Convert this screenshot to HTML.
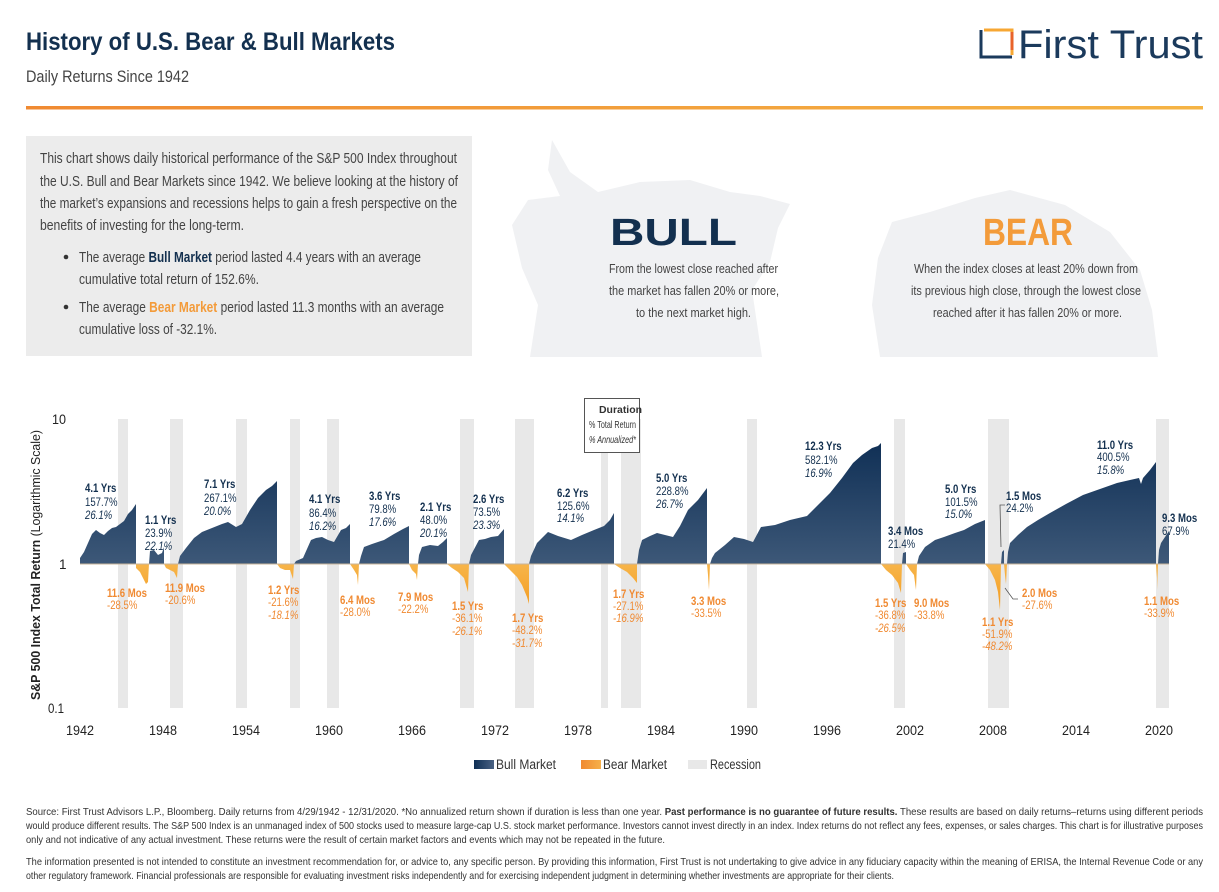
<!DOCTYPE html>
<html><head><meta charset="utf-8"><style>
html,body{margin:0;padding:0;background:#fff;}
svg{display:block;font-family:"Liberation Sans Narrow","Liberation Sans",sans-serif;}
</style></head><body>
<svg width="1219" height="892" viewBox="0 0 1219 892" xmlns="http://www.w3.org/2000/svg">
<defs>
<linearGradient id="og" x1="0" x2="1" y1="0" y2="0"><stop offset="0" stop-color="#f08a32"/><stop offset="1" stop-color="#f5b445"/></linearGradient>
<linearGradient id="bull" gradientUnits="userSpaceOnUse" x1="0" y1="440" x2="0" y2="564"><stop offset="0" stop-color="#0f2f55"/><stop offset="1" stop-color="#3d5878"/></linearGradient>
<linearGradient id="bear" gradientUnits="userSpaceOnUse" x1="0" y1="564" x2="0" y2="612"><stop offset="0" stop-color="#f7b54a"/><stop offset="1" stop-color="#f39a1e"/></linearGradient>
<linearGradient id="lgb" x1="0" x2="1"><stop offset="0" stop-color="#0f2f55"/><stop offset="1" stop-color="#4a6283"/></linearGradient>
<linearGradient id="lgo" x1="0" x2="1"><stop offset="0" stop-color="#f08a32"/><stop offset="1" stop-color="#f6b04a"/></linearGradient>
</defs>

<!-- Header -->
<text x="26" y="50" font-size="25" font-weight="bold" fill="#13304f" textLength="369" lengthAdjust="spacingAndGlyphs">History of U.S. Bear &amp; Bull Markets</text>
<text x="26" y="82" font-size="17" fill="#444" textLength="163" lengthAdjust="spacingAndGlyphs">Daily Returns Since 1942</text>
<rect x="26" y="106" width="1177" height="3.5" fill="url(#og)"/>
<path d="M981 30 V57 H1012" fill="none" stroke="#1b3a5c" stroke-width="3"/>
<path d="M984 30 H1012 V55" fill="none" stroke="#f7a733" stroke-width="3"/>
<path d="M1012 32 V50" stroke="#e8632a" stroke-width="3"/>
<text x="1018" y="58" font-size="40" fill="#1b3a5c" textLength="185" lengthAdjust="spacingAndGlyphs">First Trust</text>

<!-- silhouettes -->
<path d="M530 357 L538 305 L522 268 L512 225 L528 200 L560 196 L548 170 L552 140 L570 172 L598 192 L640 182 L690 180 L730 192 L760 196 L790 204 L778 228 L770 262 L752 290 L762 357 Z" fill="#f0f1f3"/>
<path d="M880 357 L872 305 L878 258 L892 222 L930 212 L975 198 L1010 190 L1065 205 L1110 232 L1140 270 L1152 310 L1158 357 Z" fill="#f0f1f3"/>

<!-- Info box -->
<rect x="26" y="136" width="446" height="220" fill="#ececec"/>
<g font-size="14.5" fill="#444">
<text x="40" y="163" textLength="417" lengthAdjust="spacingAndGlyphs">This chart shows daily historical performance of the S&amp;P 500 Index throughout</text>
<text x="40" y="186" textLength="418" lengthAdjust="spacingAndGlyphs">the U.S. Bull and Bear Markets since 1942. We believe looking at the history of</text>
<text x="40" y="208" textLength="417" lengthAdjust="spacingAndGlyphs">the market’s expansions and recessions helps to gain a fresh perspective on the</text>
<text x="40" y="230" textLength="204" lengthAdjust="spacingAndGlyphs">benefits of investing for the long-term.</text>
<circle cx="66" cy="257" r="2.3" fill="#333"/>
<circle cx="66" cy="307" r="2.3" fill="#333"/>
<text x="79" y="262" textLength="342" lengthAdjust="spacingAndGlyphs">The average <tspan font-weight="bold" fill="#13304f">Bull Market</tspan> period lasted 4.4 years with an average</text>
<text x="79" y="284" textLength="180" lengthAdjust="spacingAndGlyphs">cumulative total return of 152.6%.</text>
<text x="79" y="312" textLength="365" lengthAdjust="spacingAndGlyphs">The average <tspan font-weight="bold" fill="#f39b3a">Bear Market</tspan> period lasted 11.3 months with an average</text>
<text x="79" y="334" textLength="138" lengthAdjust="spacingAndGlyphs">cumulative loss of -32.1%.</text>
</g>

<!-- BULL / BEAR -->
<text x="610" y="245" font-size="38" font-weight="bold" fill="#13304f" textLength="127" lengthAdjust="spacingAndGlyphs">BULL</text>
<text x="983" y="245" font-size="38" font-weight="bold" fill="#f39b3a" textLength="90" lengthAdjust="spacingAndGlyphs">BEAR</text>
<g font-size="13" fill="#444">
<text x="609" y="273" textLength="169" lengthAdjust="spacingAndGlyphs">From the lowest close reached after</text>
<text x="609" y="295" textLength="170" lengthAdjust="spacingAndGlyphs">the market has fallen 20% or more,</text>
<text x="636" y="317" textLength="115" lengthAdjust="spacingAndGlyphs">to the next market high.</text>
<text x="914" y="273" textLength="224" lengthAdjust="spacingAndGlyphs">When the index closes at least 20% down from</text>
<text x="911" y="295" textLength="230" lengthAdjust="spacingAndGlyphs">its previous high close, through the lowest close</text>
<text x="933" y="317" textLength="189" lengthAdjust="spacingAndGlyphs">reached after it has fallen 20% or more.</text>
</g>

<!-- Recessions -->
<g fill="#e8e8e8">
<rect x="118" y="419" width="10" height="289"/>
<rect x="170" y="419" width="13" height="289"/>
<rect x="236" y="419" width="11" height="289"/>
<rect x="290" y="419" width="10" height="289"/>
<rect x="327" y="419" width="12" height="289"/>
<rect x="460" y="419" width="14" height="289"/>
<rect x="515" y="419" width="19" height="289"/>
<rect x="601" y="419" width="7" height="289"/>
<rect x="621" y="419" width="20" height="289"/>
<rect x="747" y="419" width="10" height="289"/>
<rect x="894" y="419" width="11" height="289"/>
<rect x="988" y="419" width="21" height="289"/>
<rect x="1156" y="419" width="13" height="289"/>
</g>

<!-- Bull areas -->
<g fill="url(#bull)">
<path d="M80 564 L80 558 L84 552 L88 543 L92 534 L96 530 L100 533 L104 535 L108 531 L112 528 L116 527 L120 524 L124 521 L128 514 L132 510 L136 504 L136 564Z"/>
<path d="M149 564 L150 551 L154 550 L158 555 L162 553 L164 547 L164 564Z"/>
<path d="M178 564 L180 556 L186 548 L194 538 L202 532 L212 528 L222 524 L228 522 L236 527 L242 524 L250 510 L258 498 L266 490 L272 486 L277 481 L277 564Z"/>
<path d="M294 564 L296 561 L303 558 L311 540 L316 538 L322 537 L328 540 L334 542 L341 530 L346 528 L350 524 L350 564Z"/>
<path d="M359 564 L361 556 L364 547 L372 544 L384 540 L394 534 L403 529 L409 526 L409 564Z"/>
<path d="M418 564 L419 555 L422 547 L430 545 L438 546 L443 542 L447 538 L447 564Z"/>
<path d="M469 564 L471 555 L479 540 L485 539 L491 537 L498 536 L504 529 L504 564Z"/>
<path d="M529 564 L531 556 L537 543 L548 532 L558 536 L571 540 L582 535 L594 530 L604 526 L610 520 L614 513 L614 564Z"/>
<path d="M637 564 L639 550 L642 540 L650 536 L657 533 L665 535 L673 537 L680 526 L688 510 L698 500 L707 488 L707 564Z"/>
<path d="M710 564 L712 558 L715 553 L725 545 L734 537 L744 539 L753 542 L761 527 L775 525 L790 520 L807 516 L818 505 L830 493 L842 478 L853 463 L862 455 L872 448 L878 446 L881 443 L881 564Z"/>
<path d="M902 564 L903 553 L906 552 L906 564Z"/>
<path d="M917 564 L919 556 L925 547 L935 540 L944 537 L955 533 L964 530 L975 524 L985 520 L985 564Z"/>
<path d="M1001 564 L1002 552 L1004 550 L1004 564Z"/>
<path d="M1007 564 L1008 552 L1010 543 L1018 535 L1027 527 L1038 520 L1050 513 L1066 504 L1083 495 L1100 489 L1117 483 L1130 480 L1139 478 L1141 484 L1143 478 L1150 470 L1156 462 L1156 564Z"/>
<path d="M1158 564 L1159 550 L1161 543 L1165 537 L1169 531 L1169 564Z"/>
</g>
<!-- Bear areas -->
<g fill="url(#bear)">
<path d="M136 564 L136 568 L140 572 L143 578 L146 584 L148 582 L149 564Z"/>
<path d="M164 564 L166 568 L170 570 L174 572 L177 578 L178 564Z"/>
<path d="M277 564 L280 568 L285 570 L290 570 L293 579 L294 564Z"/>
<path d="M350 564 L354 570 L357 575 L358 585 L359 564Z"/>
<path d="M409 564 L412 570 L416 574 L417 580 L418 564Z"/>
<path d="M447 564 L452 568 L458 572 L464 578 L468 592 L469 564Z"/>
<path d="M504 564 L510 570 L517 577 L522 585 L527 597 L529 604 L529 564Z"/>
<path d="M614 564 L620 568 L627 572 L633 578 L637 583 L637 564Z"/>
<path d="M707 564 L708 575 L709 590 L710 564Z"/>
<path d="M881 564 L886 570 L892 575 L898 583 L901 593 L902 564Z"/>
<path d="M906 564 L910 570 L914 575 L916 590 L917 564Z"/>
<path d="M985 564 L990 570 L995 580 L998 592 L1000 610 L1001 564Z"/>
<path d="M1004 564 L1005 575 L1006 584 L1007 564Z"/>
<path d="M1156 564 L1157 578 L1157 590 L1158 564Z"/>
</g>
<line x1="80" y1="564" x2="1169" y2="564" stroke="#c8b49a" stroke-width="1"/>

<!-- leader lines -->
<path d="M1005 505 L1000 505 L1001 547" fill="none" stroke="#555" stroke-width="0.8"/>
<path d="M1005 588 L1013 599 L1018 599" fill="none" stroke="#555" stroke-width="0.8"/>

<!-- Duration box -->
<rect x="584.5" y="398.5" width="55" height="54" fill="#fff" stroke="#555"/>
<g font-size="10.5" fill="#333">
<text x="599" y="413" font-weight="bold" textLength="43" lengthAdjust="spacingAndGlyphs" transform="translate(-0,0)" dx="0">Duration</text>
<text x="589" y="428" textLength="47" lengthAdjust="spacingAndGlyphs">% Total Return</text>
<text x="589" y="443" font-style="italic" textLength="47" lengthAdjust="spacingAndGlyphs">% Annualized*</text>
</g>

<!-- Axes labels -->
<g font-size="13.5" fill="#222">
<text x="52" y="424" textLength="14" lengthAdjust="spacingAndGlyphs">10</text>
<text x="59" y="569">1</text>
<text x="48" y="713" textLength="16" lengthAdjust="spacingAndGlyphs">0.1</text>
</g>
<text transform="translate(40,565) rotate(-90)" font-size="13" fill="#222" text-anchor="middle" textLength="270" lengthAdjust="spacingAndGlyphs"><tspan font-weight="bold">S&amp;P 500 Index Total Return</tspan> (Logarithmic Scale)</text>
<g font-size="13.5" fill="#222">
<text x="66" y="735" textLength="28" lengthAdjust="spacingAndGlyphs">1942</text><text x="149" y="735" textLength="28" lengthAdjust="spacingAndGlyphs">1948</text><text x="232" y="735" textLength="28" lengthAdjust="spacingAndGlyphs">1954</text><text x="315" y="735" textLength="28" lengthAdjust="spacingAndGlyphs">1960</text><text x="398" y="735" textLength="28" lengthAdjust="spacingAndGlyphs">1966</text><text x="481" y="735" textLength="28" lengthAdjust="spacingAndGlyphs">1972</text><text x="564" y="735" textLength="28" lengthAdjust="spacingAndGlyphs">1978</text><text x="647" y="735" textLength="28" lengthAdjust="spacingAndGlyphs">1984</text><text x="730" y="735" textLength="28" lengthAdjust="spacingAndGlyphs">1990</text><text x="813" y="735" textLength="28" lengthAdjust="spacingAndGlyphs">1996</text><text x="896" y="735" textLength="28" lengthAdjust="spacingAndGlyphs">2002</text><text x="979" y="735" textLength="28" lengthAdjust="spacingAndGlyphs">2008</text><text x="1062" y="735" textLength="28" lengthAdjust="spacingAndGlyphs">2014</text><text x="1145" y="735" textLength="28" lengthAdjust="spacingAndGlyphs">2020</text>
</g>

<!-- Bull labels (condensed) -->
<g font-size="12" fill="#13304f">
<g transform="translate(85,0) scale(0.8,1)"><text y="492" font-weight="bold">4.1 Yrs</text><text y="506">157.7%</text><text y="519" font-style="italic">26.1%</text></g>
<g transform="translate(145,0) scale(0.8,1)"><text y="524" font-weight="bold">1.1 Yrs</text><text y="537">23.9%</text><text y="550" font-style="italic">22.1%</text></g>
<g transform="translate(204,0) scale(0.8,1)"><text y="488" font-weight="bold">7.1 Yrs</text><text y="502">267.1%</text><text y="515" font-style="italic">20.0%</text></g>
<g transform="translate(309,0) scale(0.8,1)"><text y="503" font-weight="bold">4.1 Yrs</text><text y="517">86.4%</text><text y="530" font-style="italic">16.2%</text></g>
<g transform="translate(369,0) scale(0.8,1)"><text y="500" font-weight="bold">3.6 Yrs</text><text y="513">79.8%</text><text y="526" font-style="italic">17.6%</text></g>
<g transform="translate(420,0) scale(0.8,1)"><text y="511" font-weight="bold">2.1 Yrs</text><text y="524">48.0%</text><text y="537" font-style="italic">20.1%</text></g>
<g transform="translate(473,0) scale(0.8,1)"><text y="503" font-weight="bold">2.6 Yrs</text><text y="516">73.5%</text><text y="529" font-style="italic">23.3%</text></g>
<g transform="translate(557,0) scale(0.8,1)"><text y="497" font-weight="bold">6.2 Yrs</text><text y="510">125.6%</text><text y="522" font-style="italic">14.1%</text></g>
<g transform="translate(656,0) scale(0.8,1)"><text y="482" font-weight="bold">5.0 Yrs</text><text y="495">228.8%</text><text y="508" font-style="italic">26.7%</text></g>
<g transform="translate(805,0) scale(0.8,1)"><text y="450" font-weight="bold">12.3 Yrs</text><text y="464">582.1%</text><text y="477" font-style="italic">16.9%</text></g>
<g transform="translate(888,0) scale(0.8,1)"><text y="535" font-weight="bold">3.4 Mos</text><text y="548">21.4%</text></g>
<g transform="translate(945,0) scale(0.8,1)"><text y="493" font-weight="bold">5.0 Yrs</text><text y="506">101.5%</text><text y="518" font-style="italic">15.0%</text></g>
<g transform="translate(1006,0) scale(0.8,1)"><text y="500" font-weight="bold">1.5 Mos</text><text y="512">24.2%</text></g>
<g transform="translate(1097,0) scale(0.8,1)"><text y="449" font-weight="bold">11.0 Yrs</text><text y="461">400.5%</text><text y="474" font-style="italic">15.8%</text></g>
<g transform="translate(1162,0) scale(0.8,1)"><text y="522" font-weight="bold">9.3 Mos</text><text y="535">67.9%</text></g>
</g>
<!-- Bear labels -->
<g font-size="12" fill="#f08a32">
<g transform="translate(107,0) scale(0.8,1)"><text y="597" font-weight="bold">11.6 Mos</text><text y="609">-28.5%</text></g>
<g transform="translate(165,0) scale(0.8,1)"><text y="592" font-weight="bold">11.9 Mos</text><text y="604">-20.6%</text></g>
<g transform="translate(268,0) scale(0.8,1)"><text y="594" font-weight="bold">1.2 Yrs</text><text y="606">-21.6%</text><text y="619" font-style="italic">-18.1%</text></g>
<g transform="translate(340,0) scale(0.8,1)"><text y="604" font-weight="bold">6.4 Mos</text><text y="616">-28.0%</text></g>
<g transform="translate(398,0) scale(0.8,1)"><text y="601" font-weight="bold">7.9 Mos</text><text y="613">-22.2%</text></g>
<g transform="translate(452,0) scale(0.8,1)"><text y="610" font-weight="bold">1.5 Yrs</text><text y="622">-36.1%</text><text y="635" font-style="italic">-26.1%</text></g>
<g transform="translate(512,0) scale(0.8,1)"><text y="622" font-weight="bold">1.7 Yrs</text><text y="634">-48.2%</text><text y="647" font-style="italic">-31.7%</text></g>
<g transform="translate(613,0) scale(0.8,1)"><text y="598" font-weight="bold">1.7 Yrs</text><text y="610">-27.1%</text><text y="622" font-style="italic">-16.9%</text></g>
<g transform="translate(691,0) scale(0.8,1)"><text y="605" font-weight="bold">3.3 Mos</text><text y="617">-33.5%</text></g>
<g transform="translate(875,0) scale(0.8,1)"><text y="607" font-weight="bold">1.5 Yrs</text><text y="619">-36.8%</text><text y="632" font-style="italic">-26.5%</text></g>
<g transform="translate(914,0) scale(0.8,1)"><text y="607" font-weight="bold">9.0 Mos</text><text y="619">-33.8%</text></g>
<g transform="translate(982,0) scale(0.8,1)"><text y="626" font-weight="bold">1.1 Yrs</text><text y="638">-51.9%</text><text y="650" font-style="italic">-48.2%</text></g>
<g transform="translate(1022,0) scale(0.8,1)"><text y="597" font-weight="bold">2.0 Mos</text><text y="609">-27.6%</text></g>
<g transform="translate(1144,0) scale(0.8,1)"><text y="605" font-weight="bold">1.1 Mos</text><text y="617">-33.9%</text></g>
</g>

<!-- Legend -->
<rect x="474" y="760" width="20" height="9" fill="url(#lgb)"/>
<text x="496" y="769" font-size="13.5" fill="#333" textLength="60" lengthAdjust="spacingAndGlyphs">Bull Market</text>
<rect x="581" y="760" width="20" height="9" fill="url(#lgo)"/>
<text x="603" y="769" font-size="13.5" fill="#333" textLength="64" lengthAdjust="spacingAndGlyphs">Bear Market</text>
<rect x="688" y="760" width="19" height="9" fill="#e8e8e8"/>
<text x="710" y="769" font-size="13.5" fill="#333" textLength="51" lengthAdjust="spacingAndGlyphs">Recession</text>

<!-- Footer -->
<g font-size="10.5" fill="#333">
<text x="26" y="815" textLength="1177" lengthAdjust="spacingAndGlyphs">Source: First Trust Advisors L.P., Bloomberg. Daily returns from 4/29/1942 - 12/31/2020. *No annualized return shown if duration is less than one year. <tspan font-weight="bold">Past performance is no guarantee of future results.</tspan> These results are based on daily  returns–returns using different periods</text>
<text x="26" y="829" textLength="1177" lengthAdjust="spacingAndGlyphs">would produce different results. The S&amp;P 500 Index is an unmanaged index of 500 stocks used to measure large-cap U.S. stock market performance. Investors cannot invest directly in an index. Index returns do not reflect any fees, expenses, or sales charges. This chart is for illustrative purposes</text>
<text x="26" y="843" textLength="639" lengthAdjust="spacingAndGlyphs">only and not indicative of any actual investment. These returns were the result of certain market factors and events which may not be repeated in the future.</text>
<text x="26" y="865" textLength="1177" lengthAdjust="spacingAndGlyphs">The information presented is not intended to constitute an investment recommendation for, or advice to, any specific person. By providing this information, First Trust is not undertaking to give advice in any fiduciary capacity within the meaning of ERISA, the Internal Revenue Code or any</text>
<text x="26" y="879" textLength="868" lengthAdjust="spacingAndGlyphs">other regulatory framework. Financial professionals are responsible for evaluating investment risks independently and for exercising independent judgment in determining whether investments are appropriate for their clients.</text>
</g>
</svg>
</body></html>
